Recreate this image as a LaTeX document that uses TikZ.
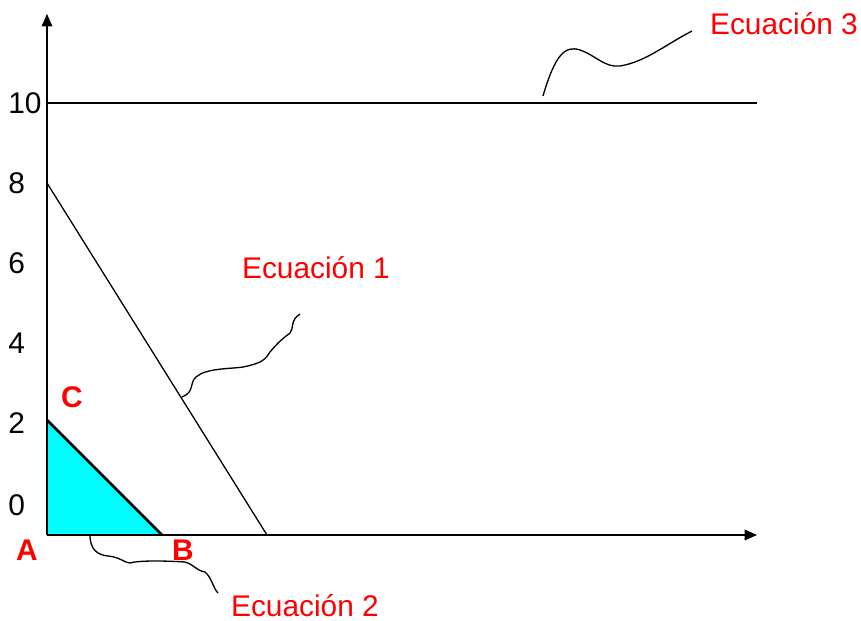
\documentclass[tikz,border=0pt]{standalone}
\usepackage{fontspec}
\setmainfont{Liberation Sans}
\usetikzlibrary{arrows.meta}
\definecolor{celeste}{RGB}{0,255,255}
\begin{document}
\begin{tikzpicture}[
x=0.02cm, y=-0.02cm,
every node/.style={font=\fontsize{17}{20}\selectfont, inner sep=0pt},
eje/.style={line width=0.9pt, -{Triangle[length=7pt,width=6pt]}},
recta/.style={line width=0.75pt},
rotulo/.style={text=red},
vertice/.style={text=red, font=\fontsize{17}{20}\selectfont\bfseries}
]
\useasboundingbox (0,0) rectangle (861,621);

\coordinate (O) at (47,535);
\coordinate (ytop) at (47,14);
\coordinate (xend) at (757,535);
\coordinate (diez0) at (47,103);
\coordinate (diez1) at (757,103);
\coordinate (ocho) at (47,183);
\coordinate (corte) at (267,535);
\coordinate (C0) at (47,420);
\coordinate (B0) at (162,535);

% region factible
\fill[celeste] (O) -- (C0) -- (B0) -- cycle;
\draw[line width=1.6pt] (C0) -- (B0);

% ejes
\draw[eje] (O) -- (ytop);
\draw[eje] (O) -- (xend);

% rectas
\draw[recta] (diez0) -- (diez1);
\draw[recta] (ocho) -- (corte);

% escala
\node[anchor=west] (t10) at (8,103) {10};
\node[anchor=west] (t8) at (8,183) {8};
\node[anchor=west] (t6) at (8,263) {6};
\node[anchor=west] (t4) at (8,343) {4};
\node[anchor=west] (t2) at (8,423) {2};
\node[anchor=west] (t0) at (8,505) {0};

% vertices
\node[vertice] (A) at (27,550) {A};
\node[vertice] (B) at (183,550) {B};
\node[vertice] (C) at (72,397) {C};

% ecuaciones
\node[rotulo] (ec1) at (316,268) {Ecuación 1};
\node[rotulo] (ec2) at (305,606) {Ecuación 2};
\node[rotulo] (ec3) at (784,24) {Ecuación 3};

\coordinate (p1) at (182,397);
\coordinate (q1) at (300,314);
\coordinate (p2) at (90,535);
\coordinate (q2) at (218,593);
\coordinate (p3) at (543,96);
\coordinate (q3) at (692,31);

\draw[recta] (p1) .. controls (195,392) and (189,383) .. (196,377)
  .. controls (206,368) and (230,369) .. (243,367)
  .. controls (262,363) and (265,360) .. (270,352)
  .. controls (280,340) and (285,337) .. (290,333)
  .. controls (294,329) and (290,320) .. (q1);
\draw[recta] (p2) .. controls (90,550) and (98,555) .. (108,556)
  .. controls (120,557) and (125,563) .. (130,563)
  .. controls (140,560) and (170,561) .. (185,562)
  .. controls (195,565) and (195,570) .. (205,572)
  .. controls (212,578) and (213,588) .. (q2);
\draw[recta] (p3) .. controls (555,55) and (565,45) .. (580,50)
  .. controls (595,55) and (605,68) .. (620,66)
  .. controls (645,62) and (665,45) .. (q3);
\end{tikzpicture}
\end{document}
